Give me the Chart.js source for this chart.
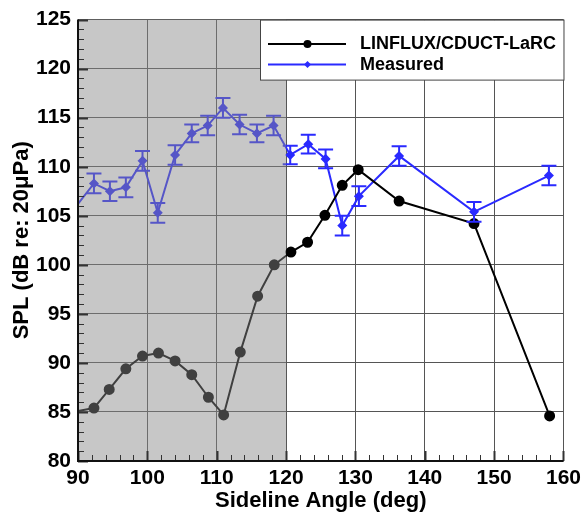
<!DOCTYPE html>
<html>
<head>
<meta charset="utf-8">
<script src="https://cdn.jsdelivr.net/npm/chart.js@4"></script>
<style>
  body { margin: 0; background: #fff; }
  canvas { display: block; }
</style>
</head>
<body>
<canvas id="splChart" width="586" height="517"></canvas>
<script>
// Chart data
const xTickLabels = [90, 100, 110, 120, 130, 140, 150, 160];
const yTickLabels = [80, 85, 90, 95, 100, 105, 110, 115, 120, 125];

const modelAngles = [90, 92.3, 94.5, 96.9, 99.3, 101.6, 104.0, 106.4, 108.8, 111.0, 113.4, 115.9, 118.3, 120.7, 123.1, 125.6, 128.1, 130.4, 136.3, 147.1, 158.0];
const modelSPL = [85.1, 85.4, 87.3, 89.4, 90.7, 91.0, 90.2, 88.8, 86.5, 84.7, 91.1, 96.8, 100.0, 101.3, 102.3, 105.05, 108.1, 109.7, 106.5, 104.2, 84.6];

const measuredAngles = [90, 92.3, 94.6, 96.9, 99.3, 101.5, 104.0, 106.4, 108.7, 110.9, 113.3, 115.8, 118.2, 120.6, 123.2, 125.7, 128.1, 130.5, 136.3, 147.1, 157.9];
const measuredSPL = [106.2, 108.3, 107.5, 107.9, 110.6, 105.3, 111.2, 113.4, 114.2, 116.0, 114.3, 113.4, 114.2, 111.2, 112.3, 110.8, 104.0, 107.0, 111.1, 105.4, 109.1];
const measuredErr = [0, 1.0, 1.0, 1.0, 1.0, 1.0, 1.0, 0.9, 1.0, 1.0, 1.0, 0.9, 1.0, 0.95, 0.95, 0.95, 1.0, 1.0, 1.0, 1.0, 1.0];

const shadeFrom = 90;
const shadeTo = 120;

const seriesNames = ["LINFLUX/CDUCT-LaRC", "Measured"];

const FONT = "'Liberation Sans', Arial, Helvetica, sans-serif";
const BLUE = "#2a2aff";

// error bars, shaded band, inward ticks, axis lines and the boxed legend
const decorations = {
    id: "decorations",
    afterDatasetsDraw(chart) {
        const { ctx, chartArea: a, scales: { x, y } } = chart;
        ctx.save();

        // error bars for the measured series
        ctx.strokeStyle = BLUE;
        ctx.lineWidth = 2;
        measuredAngles.forEach((ang, i) => {
            if (!measuredErr[i]) return;
            const px = x.getPixelForValue(ang);
            const top = y.getPixelForValue(measuredSPL[i] + measuredErr[i]);
            const bot = y.getPixelForValue(measuredSPL[i] - measuredErr[i]);
            ctx.beginPath();
            ctx.moveTo(px, top); ctx.lineTo(px, bot);
            ctx.moveTo(px - 7.5, top); ctx.lineTo(px + 7.5, top);
            ctx.moveTo(px - 7.5, bot); ctx.lineTo(px + 7.5, bot);
            ctx.stroke();
        });

        // translucent gray band laid over everything
        const sx0 = x.getPixelForValue(shadeFrom);
        const sx1 = x.getPixelForValue(shadeTo);
        ctx.fillStyle = "rgba(137,137,137,0.47)";
        ctx.fillRect(sx0, a.top, sx1 - sx0, a.bottom - a.top);

        // minor / major ticks pointing inward
        ctx.strokeStyle = "#333";
        for (let v = 90; v <= 160; v += 2) {
            const px = Math.round(x.getPixelForValue(v)) + 0.5;
            const major = v % 10 === 0;
            ctx.lineWidth = major ? 2 : 1;
            ctx.beginPath();
            ctx.moveTo(px, a.bottom);
            ctx.lineTo(px, a.bottom - (major ? 10 : 6));
            ctx.stroke();
        }
        for (let v = 80; v <= 125; v += 1) {
            const py = Math.round(y.getPixelForValue(v)) + 0.5;
            const major = v % 5 === 0;
            ctx.lineWidth = major ? 2 : 1;
            ctx.beginPath();
            ctx.moveTo(a.left, py);
            ctx.lineTo(a.left + (major ? 10 : 6), py);
            ctx.stroke();
        }

        // left and bottom axis lines
        ctx.strokeStyle = "#111";
        ctx.lineWidth = 2;
        ctx.beginPath();
        ctx.moveTo(a.left, a.top);
        ctx.lineTo(a.left, a.bottom);
        ctx.lineTo(a.right, a.bottom);
        ctx.stroke();

        // legend box in the top-right corner
        const lx = 260.5, ly = a.top + 0.5, lw = a.right - 260, lh = 60;
        ctx.fillStyle = "#fff";
        ctx.fillRect(lx, ly, lw, lh);
        ctx.strokeStyle = "#444";
        ctx.lineWidth = 1;
        ctx.strokeRect(lx, ly, lw, lh);

        const rows = [
            { y: ly + 24, color: "#000", name: seriesNames[0], marker: "circle" },
            { y: ly + 44.5, color: BLUE, name: seriesNames[1], marker: "diamond" }
        ];
        rows.forEach(r => {
            ctx.strokeStyle = r.color;
            ctx.lineWidth = 2;
            ctx.beginPath();
            ctx.moveTo(268, r.y); ctx.lineTo(346, r.y);
            ctx.stroke();
            ctx.fillStyle = r.color;
            ctx.beginPath();
            if (r.marker === "circle") {
                ctx.arc(307.5, r.y, 4, 0, Math.PI * 2);
            } else {
                ctx.moveTo(307.5, r.y - 3.5); ctx.lineTo(311, r.y);
                ctx.lineTo(307.5, r.y + 3.5); ctx.lineTo(304, r.y);
                ctx.closePath();
            }
            ctx.fill();
            ctx.fillStyle = "#000";
            ctx.font = "bold 18px " + FONT;
            ctx.textBaseline = "middle";
            ctx.textAlign = "left";
            ctx.fillText(r.name, 360, r.y);
        });

        ctx.restore();
    }
};

const ctx = document.getElementById("splChart").getContext("2d");
new Chart(ctx, {
    type: "line",
    data: {
        datasets: [
            {
                label: seriesNames[0],
                data: modelAngles.map((a, i) => ({ x: a, y: modelSPL[i] })),
                borderColor: "#000",
                backgroundColor: "#000",
                borderWidth: 2,
                pointRadius: c => (c.dataIndex === 0 ? 0 : 4.5),
                pointStyle: "circle",
                tension: 0
            },
            {
                label: seriesNames[1],
                data: measuredAngles.map((a, i) => ({ x: a, y: measuredSPL[i] })),
                borderColor: BLUE,
                backgroundColor: BLUE,
                borderWidth: 2,
                pointRadius: c => (c.dataIndex === 0 ? 0 : 3.6),
                pointStyle: "rectRot",
                tension: 0
            }
        ]
    },
    options: {
        responsive: false,
        animation: false,
        devicePixelRatio: 1,
        layout: { padding: { left: 0, top: 17, right: 21, bottom: 0 } },
        plugins: {
            legend: { display: false },
            tooltip: { enabled: false }
        },
        scales: {
            x: {
                type: "linear",
                min: xTickLabels[0],
                max: xTickLabels[xTickLabels.length - 1],
                afterBuildTicks: s => { s.ticks = xTickLabels.map(v => ({ value: v })); },
                afterFit: s => { s.height = 56; },
                grid: { color: "#555", lineWidth: 1, drawTicks: false },
                border: { display: false },
                ticks: {
                    color: "#000",
                    padding: 5,
                    maxRotation: 0,
                    font: { family: FONT, size: 21, weight: "bold" }
                },
                title: {
                    display: true,
                    text: "Sideline Angle (deg)",
                    color: "#000",
                    padding: { top: 0, bottom: 3 },
                    font: { family: FONT, size: 22, weight: "bold" }
                }
            },
            y: {
                type: "linear",
                min: yTickLabels[0],
                max: yTickLabels[yTickLabels.length - 1],
                afterBuildTicks: s => { s.ticks = yTickLabels.map(v => ({ value: v })); },
                afterFit: s => { s.width = 78; },
                grid: { color: "#555", lineWidth: 1, drawTicks: false },
                border: { display: false },
                ticks: {
                    color: "#000",
                    padding: 7,
                    font: { family: FONT, size: 21, weight: "bold" }
                },
                title: {
                    display: true,
                    text: "SPL (dB re: 20\u03bcPa)",
                    color: "#000",
                    padding: { top: 9, bottom: 0 },
                    font: { family: FONT, size: 22, weight: "bold" }
                }
            }
        }
    },
    plugins: [decorations]
});
</script>
</body>
</html>
